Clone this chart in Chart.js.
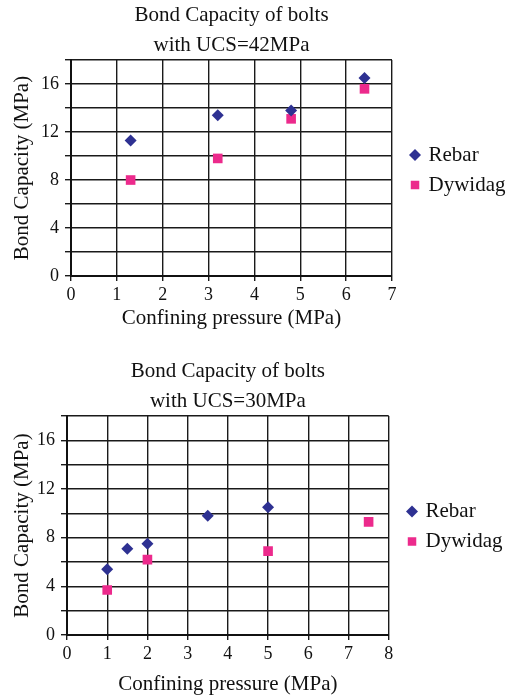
<!DOCTYPE html>
<html>
<head>
<meta charset="utf-8">
<script src="https://cdn.jsdelivr.net/npm/chart.js@4.4.1/dist/chart.umd.min.js"></script>
<style>
  body { margin: 0; background: #fff; width: 507px; height: 697px; overflow: hidden; position: relative; }
  canvas { position: absolute; left: 0; }
</style>
</head>
<body>
<canvas id="chartTop" width="507" height="340" style="top:0"></canvas>
<canvas id="chartBottom" width="507" height="341" style="top:356px"></canvas>
<script>
// UCS = 42 MPa
const topRebarX = [1.3, 3.2, 4.8, 6.4];
const topRebarY = [11.3, 13.4, 13.8, 16.5];
const topDywX = [1.3, 3.2, 4.8, 6.4];
const topDywY = [8.0, 9.8, 13.1, 15.6];

// UCS = 30 MPa
const botRebarX = [1, 1.5, 2, 3.5, 5];
const botRebarY = [5.4, 7.1, 7.5, 9.8, 10.5];
const botDywX = [1, 2, 5, 7.5];
const botDywY = [3.7, 6.2, 6.9, 9.3];

const seriesNames = ['Rebar', 'Dywidag'];
const yMax = 18;
const serif = "'Liberation Serif', 'Times New Roman', serif";

// push the legend a little away from the plot
const legendShift = {
    id: 'legendShift',
    afterLayout(chart, args, opts) {
        chart.legend.left += opts.dx;
        chart.legend.right += opts.dx;
    }
};

function pts(xs, ys) {
    return xs.map((x, i) => ({ x: x, y: ys[i] }));
}

function makeChart(id, title, rebar, dyw, xMax, area) {
    const ctx = document.getElementById(id).getContext('2d');
    return new Chart(ctx, {
        type: 'scatter',
        data: {
            datasets: [{
                label: seriesNames[0],
                data: rebar,
                pointStyle: 'rectRot',
                pointRadius: 6,
                backgroundColor: '#2E3192',
                borderColor: '#2E3192',
                borderWidth: 0
            }, {
                label: seriesNames[1],
                data: dyw,
                pointStyle: 'rect',
                pointRadius: 6.8,
                backgroundColor: '#EC2A8C',
                borderColor: '#EC2A8C',
                borderWidth: 0
            }]
        },
        plugins: [legendShift],
        options: {
            responsive: false,
            animation: false,
            layout: { padding: { left: 0, right: area.padRight, top: 0, bottom: 0 } },
            plugins: {
                legendShift: { dx: area.dx },
                title: {
                    display: true,
                    text: title,
                    fullSize: false,
                    color: '#111',
                    font: { family: serif, size: 21, weight: 'normal', lineHeight: 1.43 },
                    padding: { top: 0, bottom: 0 }
                },
                legend: {
                    position: 'right',
                    labels: {
                        usePointStyle: true,
                        color: '#111',
                        font: { family: serif, size: 21 },
                        boxWidth: 6,
                        boxHeight: 8.5,
                        padding: 9
                    }
                },
                tooltip: { enabled: false }
            },
            scales: {
                x: {
                    type: 'linear',
                    min: 0,
                    max: xMax,
                    ticks: { stepSize: 1, autoSkip: false, color: '#111', font: { family: serif, size: 18 }, padding: 3 },
                    grid: { color: '#1a1a1a', lineWidth: 1.4, tickLength: 5 },
                    border: { color: '#111', width: 2 },
                    title: {
                        display: true,
                        text: 'Confining pressure (MPa)',
                        color: '#111',
                        font: { family: serif, size: 21 },
                        padding: { top: 0, bottom: area.xTitlePad }
                    },
                    afterFit: s => { s.height = area.xh; }
                },
                y: {
                    min: 0,
                    max: yMax,
                    ticks: {
                        stepSize: 2,
                        autoSkip: false,
                        color: '#111',
                        font: { family: serif, size: 18 },
                        padding: 6,
                        callback: v => (v % 4 === 0 ? v : '')
                    },
                    grid: { color: '#1a1a1a', lineWidth: 1.4, tickLength: 6 },
                    border: { color: '#111', width: 2 },
                    title: {
                        display: true,
                        text: 'Bond Capacity (MPa)',
                        color: '#111',
                        font: { family: serif, size: 21 },
                        padding: { top: 10, bottom: 0 }
                    },
                    afterFit: s => { s.width = area.yw; }
                }
            }
        }
    });
}

makeChart('chartTop', ['Bond Capacity of bolts', 'with UCS=42MPa'],
    pts(topRebarX, topRebarY), pts(topDywX, topDywY), 7,
    { yw: 71, xh: 64, padRight: 2.5, dx: 11, xTitlePad: 9 });
makeChart('chartBottom', ['Bond Capacity of bolts', 'with UCS=30MPa'],
    pts(botRebarX, botRebarY), pts(botDywX, botDywY), 8,
    { yw: 67, xh: 62, padRight: 5.8, dx: 11.3, xTitlePad: 0 });
</script>
</body>
</html>
